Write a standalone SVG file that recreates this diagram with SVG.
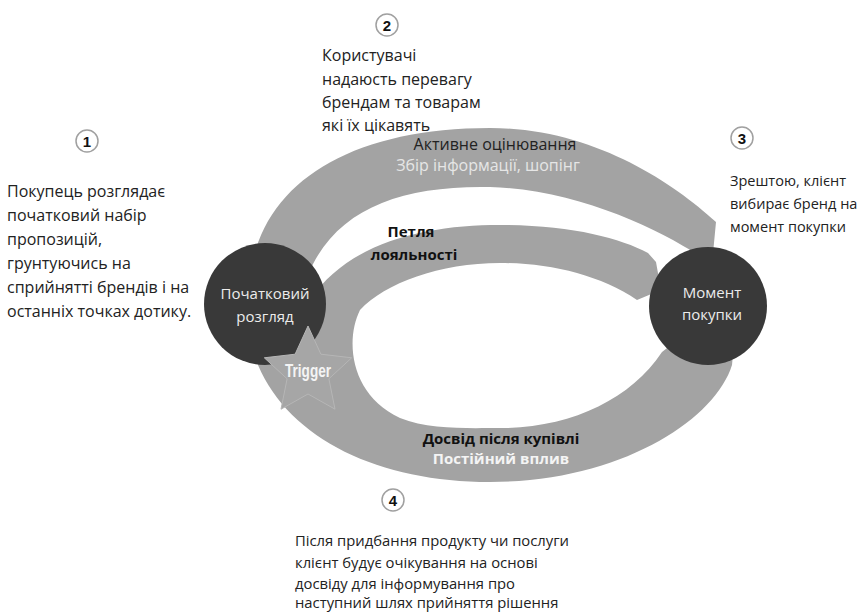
<svg xmlns="http://www.w3.org/2000/svg" width="866" height="613" viewBox="0 0 866 613">
<style>
.band{fill:#a3a3a3}
.node{fill:#393939}
.ntext{font-family:"Open Sans","DejaVu Sans",sans-serif;font-size:15px;fill:#ececec;text-anchor:middle}
.body{font-family:"Open Sans","DejaVu Sans",sans-serif;font-size:16px;fill:#222}
.body.b3{font-size:14.5px}
.body.b4{font-size:14.8px}
.num circle{fill:#fff;stroke:#a0a0a0;stroke-width:1.5}
.num text{font-family:"Liberation Sans",Arial,sans-serif;font-weight:bold;font-size:15px;fill:#111;text-anchor:middle}
.lbl{font-family:"Open Sans","DejaVu Sans",sans-serif;text-anchor:middle}
</style>
<rect width="866" height="613" fill="#fff"/>
<g id="connectors">
  <path id="active-evaluation" class="band" d="M250,312 C240,200 330,128 490,128 C590,128 670,180 716,222 L712,264 C670,235 585,190 490,187 C390,185 320,215 300,300 Z"/>
  <path id="loyalty-loop" class="band" d="M690,330 L736,322 L732,365 C715,420 620,482 490,482 C380,482 290,440 258,365 L248,300 L310,300 C350,240 430,225 500,225 C570,225 620,238 648,253 L656,262 L661,290 L637,300 C600,275 550,263 500,263 C440,263 385,283 360,310 C345,340 350,395 400,418 C430,430 470,428 500,428 C570,428 630,400 662,352 Z"/>
</g>
<g id="node-initial">
  <circle class="node" cx="265" cy="304" r="61"/>
  <text class="ntext" x="265" y="299">Початковий</text>
  <text class="ntext" x="265" y="322">розгляд</text>
</g>
<g id="node-purchase">
  <circle class="node" cx="708" cy="306" r="59"/>
  <text class="ntext" x="712" y="298">Момент</text>
  <text class="ntext" x="712" y="320">покупки</text>
</g>
<g id="node-trigger">
  <polygon points="308,326 320.9,354.2 351.7,357.8 328.9,378.8 335,409.2 308,394 281,409.2 287.1,378.8 264.3,357.8 295.1,354.2" fill="#a6a6a6" stroke="#b6b6b6" stroke-width="1" stroke-linejoin="round"/>
  <text x="308" y="377" font-family="Liberation Sans, Arial, sans-serif" font-weight="bold" font-size="18" fill="#f4f4f4" text-anchor="middle" textLength="46" lengthAdjust="spacingAndGlyphs">Trigger</text>
</g>
<g id="label-active">
  <text class="lbl" x="495" y="150" font-size="16" fill="#222">Активне оцінювання</text>
  <text class="lbl" x="488" y="171" font-size="16" fill="#e6e6e6">Збір інформації, шопінг</text>
</g>
<g id="label-loyalty">
  <text class="lbl" x="411" y="237" font-size="15" font-weight="bold" fill="#111">Петля</text>
  <text class="lbl" x="414" y="260" font-size="15" font-weight="bold" fill="#111">лояльності</text>
</g>
<g id="label-post">
  <text class="lbl" x="501" y="444" font-size="15" font-weight="bold" fill="#111">Досвід після купівлі</text>
  <text class="lbl" x="501" y="464" font-size="15" font-weight="bold" fill="#f4f4f4">Постійний вплив</text>
</g>
<g id="step-1">
  <g class="num"><circle cx="87" cy="141" r="11"/><text x="87" y="146.5">1</text></g>
  <text class="body" x="7" y="197">Покупець розглядає</text>
  <text class="body" x="7" y="221">початковий набір</text>
  <text class="body" x="7" y="245">пропозицій,</text>
  <text class="body" x="7" y="269">грунтуючись на</text>
  <text class="body" x="7" y="293">сприйнятті брендів і на</text>
  <text class="body" x="7" y="317">останніх точках дотику.</text>
</g>
<g id="step-2">
  <g class="num"><circle cx="387" cy="25" r="11"/><text x="387" y="30.5">2</text></g>
  <text class="body" x="322" y="61">Користувачі</text>
  <text class="body" x="322" y="85">надаюсть перевагу</text>
  <text class="body" x="322" y="108">брендам та товарам</text>
  <text class="body" x="322" y="131">які їх цікавять</text>
</g>
<g id="step-3">
  <g class="num"><circle cx="742" cy="138" r="11"/><text x="742" y="143.5">3</text></g>
  <text class="body b3" x="730" y="186">Зрештою, клієнт</text>
  <text class="body b3" x="730" y="209">вибирає бренд на</text>
  <text class="body b3" x="730" y="232">момент покупки</text>
</g>
<g id="step-4">
  <g class="num"><circle cx="393" cy="500" r="11"/><text x="393" y="505.5">4</text></g>
  <text class="body b4" x="295" y="546">Після придбання продукту чи послуги</text>
  <text class="body b4" x="295" y="568">клієнт будує очікування на основі</text>
  <text class="body b4" x="295" y="589">досвіду для інформування про</text>
  <text class="body b4" x="295" y="608">наступний шлях прийняття рішення</text>
</g>
</svg>
